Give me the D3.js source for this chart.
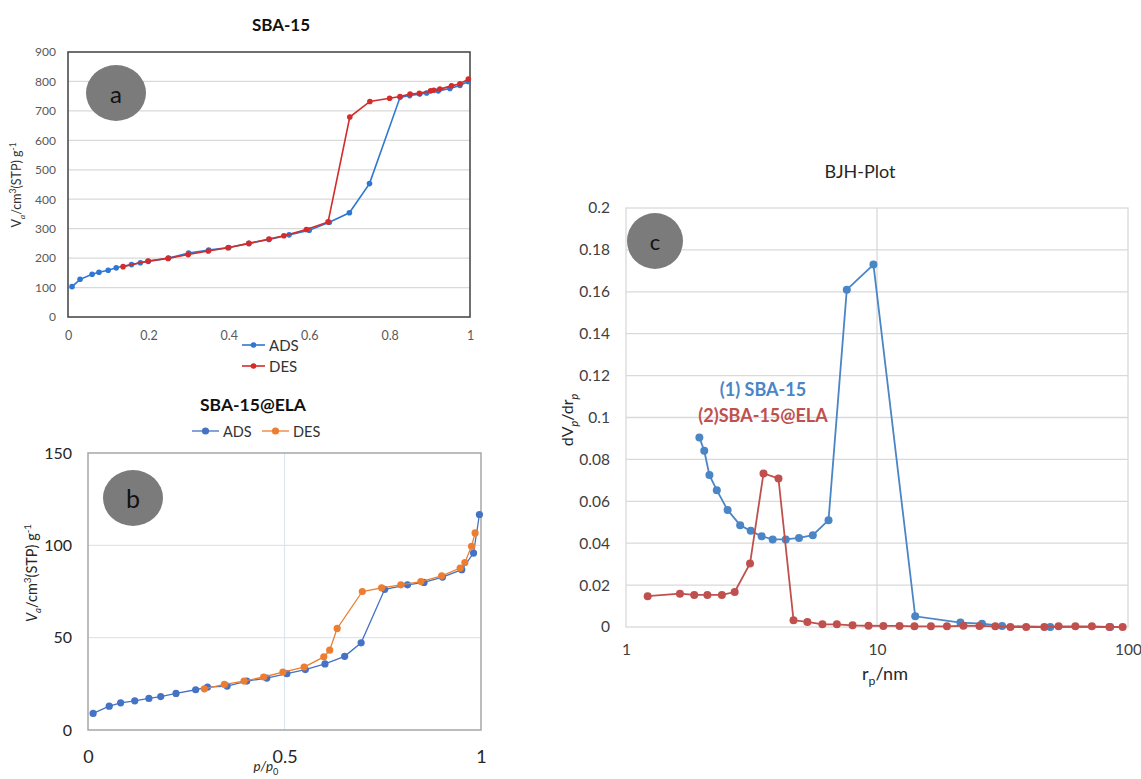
<!DOCTYPE html>
<html><head><meta charset="utf-8">
<script src="https://cdn.jsdelivr.net/npm/d3@7/dist/d3.min.js"></script>
<style>
body{margin:0;background:#fff;}
svg{display:block;font-family:Lato,"Open Sans",sans-serif;}
</style></head>
<body><svg id="chart" width="1141" height="779"></svg>
<script>
// ---------- Panel a : SBA-15 isotherm ----------
const aTicksX = [0, 0.2, 0.4, 0.6, 0.8, 1];
const aTicksY = [0,100,200,300,400,500,600,700,800,900];
const aAdsX = [0.01,0.03,0.06,0.077,0.1,0.12,0.158,0.18,0.2,0.25,0.3,0.35,0.4,0.45,0.5,0.55,0.6,0.65,0.7,0.75,0.826,0.85,0.875,0.892,0.921,0.95,0.975,0.995];
const aAdsV = [103,128,145,152,159,167,178,184,189,200,217,227,236,250,263,279,295,322,354,453,746,752,757,761,768,776,786,800];
const aDesX = [0.137,0.199,0.249,0.299,0.349,0.398,0.45,0.5,0.537,0.593,0.647,0.701,0.751,0.8,0.826,0.851,0.874,0.902,0.91,0.925,0.954,0.975,0.996];
const aDesV = [171,190,199,212,224,235,250,265,276,297,323,679,732,743,749,757,760,768,770,774,785,792,808];

// ---------- Panel b : SBA-15@ELA isotherm ----------
const bTicksX = [0, 0.5, 1];
const bTicksY = [0, 50, 100, 150];
const bAdsX = [0.013,0.054,0.083,0.119,0.155,0.185,0.224,0.274,0.304,0.354,0.404,0.455,0.506,0.553,0.603,0.653,0.695,0.755,0.813,0.855,0.902,0.951,0.981,0.996];
const bAdsV = [9,12.9,14.7,15.8,17.1,18.1,19.8,21.8,23.2,23.8,26.5,28.1,30.5,32.7,35.8,39.9,47.2,76.2,78.6,79.9,82.8,86.8,95.8,116.7];
const bDesX = [0.296,0.347,0.397,0.447,0.496,0.55,0.6,0.615,0.634,0.698,0.747,0.796,0.847,0.9,0.947,0.959,0.976,0.985];
const bDesV = [22.3,24.7,26.5,28.7,31.4,34.1,39.6,43.2,55.0,75.0,77.0,78.6,80.4,83.5,87.7,90.7,99.5,106.7];

// ---------- Panel c : BJH plot ----------
const cTicksX = [1, 10, 100];
const cTicksY = [0,0.02,0.04,0.06,0.08,0.1,0.12,0.14,0.16,0.18,0.2];
const cSbaR = [1.96,2.05,2.15,2.30,2.54,2.85,3.14,3.47,3.84,4.33,4.89,5.55,6.41,7.58,9.68,14.2,21.5,26.2,31.5,49,85];
const cSbaV = [0.0905,0.0841,0.0725,0.0653,0.0558,0.0486,0.0459,0.0433,0.0418,0.0418,0.0425,0.0438,0.051,0.161,0.173,0.0051,0.0021,0.0016,0.0005,0,0];
const cElaR = [1.22,1.64,1.87,2.11,2.41,2.71,3.12,3.53,4.05,4.65,5.28,6.06,6.92,7.99,9.25,10.6,12.3,14.1,16.4,19.0,22.1,25.6,29.6,34.0,39.3,46.4,52.9,61.7,71.8,84.3,95.2];
const cElaV = [0.0147,0.0159,0.0153,0.0153,0.0153,0.0167,0.0303,0.0733,0.0709,0.0032,0.0024,0.0013,0.0013,0.0008,0.0006,0.0005,0.0005,0.0003,0.0003,0.0003,0.0006,0.0005,0.0003,0,0,0,0.0003,0.0003,0.0003,0,0];

const svg = d3.select("#chart");
const zip = (xs, ys) => xs.map((x, i) => [x, ys[i]]);

function series(g, x, y, pts, color, r, w) {
  g.append("path").datum(pts)
    .attr("fill","none").attr("stroke",color).attr("stroke-width",w)
    .attr("d", d3.line().x(d=>x(d[0])).y(d=>y(d[1])));
  g.selectAll(null).data(pts).enter().append("circle")
    .attr("cx",d=>x(d[0])).attr("cy",d=>y(d[1])).attr("r",r).attr("fill",color);
}
function styleAxis(g, size, color) {
  g.select(".domain").remove();
  g.selectAll(".tick line").remove();
  g.selectAll("text").attr("font-size", size).attr("fill", color).attr("font-family","Lato,'Open Sans',sans-serif");
}
function badge(cx, cy, rx, ry, label, size) {
  svg.append("ellipse").attr("cx",cx).attr("cy",cy).attr("rx",rx).attr("ry",ry).attr("fill","#7b7b7b");
  svg.append("text").attr("x",cx).attr("y",cy).attr("text-anchor","middle").attr("dominant-baseline","central")
    .attr("font-size",size).attr("fill","#111").text(label);
}
// rich text: parts = [[text, kind, italic]] kind: "n" normal, "sub", "sup"
function rich(sel, parts, base) {
  let shift = 0;
  parts.forEach(([t, kind, it]) => {
    const target = kind === "sub" ? 0.3*base : kind === "sup" ? -0.4*base : 0;
    const ts = sel.append("tspan").attr("dy", target - shift).text(t);
    shift = target;
    if (kind !== "n") ts.attr("font-size", base*0.68);
    if (it) ts.attr("font-style","italic");
  });
}

// ===== Panel a =====
{
  const x = d3.scaleLinear().domain([0,1]).range([68,470]);
  const y = d3.scaleLinear().domain([0,900]).range([317,52]);
  const g = svg.append("g");
  g.selectAll(null).data(aTicksY.slice(1,-1)).enter().append("line")
    .attr("x1",68).attr("x2",470).attr("y1",d=>y(d)).attr("y2",d=>y(d)).attr("stroke","#d9d9d9").attr("stroke-width",1.3);
  g.append("rect").attr("x",68).attr("y",52).attr("width",402).attr("height",265).attr("fill","none").attr("stroke","#404040").attr("stroke-width",1.5);
  const ax = g.append("g").attr("transform","translate(0,317)").call(d3.axisBottom(x).tickValues(aTicksX).tickSize(0).tickPadding(14).tickFormat(d3.format("~g")));
  styleAxis(ax, 12.5, "#595959");
  const ay = g.append("g").attr("transform","translate(68,0)").call(d3.axisLeft(y).tickValues(aTicksY).tickSize(0).tickPadding(12));
  styleAxis(ay, 12, "#595959");
  series(g, x, y, zip(aAdsX,aAdsV), "#2f77d2", 2.8, 1.6);
  series(g, x, y, zip(aDesX,aDesV), "#d42b2b", 2.8, 1.6);
  svg.append("text").attr("x",281).attr("y",31).attr("text-anchor","middle").attr("font-size",17).attr("font-weight","bold").attr("fill","#111").text("SBA-15");
  const yl = svg.append("text").attr("transform","translate(21,185) rotate(-90)").attr("text-anchor","middle").attr("font-size",12.5).attr("fill","#333");
  rich(yl, [["V","n",false],["a","sub",true],["/cm","n",false],["3","sup",false],["(STP) g","n",false],["-1","sup",false]], 12.5);
  // legend
  [["ADS","#2f77d2",345],["DES","#d42b2b",366]].forEach(([t,c,yy])=>{
    svg.append("line").attr("x1",242).attr("x2",265).attr("y1",yy).attr("y2",yy).attr("stroke",c).attr("stroke-width",1.6);
    svg.append("circle").attr("cx",253.5).attr("cy",yy).attr("r",2.8).attr("fill",c);
    svg.append("text").attr("x",269).attr("y",yy).attr("dominant-baseline","central").attr("font-size",15).attr("fill","#333").text(t);
  });
  badge(116, 93, 30, 28, "a", 24);
}

// ===== Panel b =====
{
  const x = d3.scaleLinear().domain([0,1]).range([88,481]);
  const y = d3.scaleLinear().domain([0,150]).range([730,453]);
  const g = svg.append("g");
  g.selectAll(null).data([50,100]).enter().append("line")
    .attr("x1",88).attr("x2",481).attr("y1",d=>y(d)).attr("y2",d=>y(d)).attr("stroke","#dde5f1").attr("stroke-width",1.2);
  g.append("line").attr("x1",x(0.5)).attr("x2",x(0.5)).attr("y1",453).attr("y2",730).attr("stroke","#dde5f1").attr("stroke-width",1.2);
  g.append("rect").attr("x",88).attr("y",453).attr("width",393).attr("height",277).attr("fill","none").attr("stroke","#a6a6a6").attr("stroke-width",1.5);
  const ax = g.append("g").attr("transform","translate(0,730)").call(d3.axisBottom(x).tickValues(bTicksX).tickSize(0).tickPadding(20).tickFormat(d3.format("~g")));
  styleAxis(ax, 18, "#262626");
  const ay = g.append("g").attr("transform","translate(88,0)").call(d3.axisLeft(y).tickValues(bTicksY).tickSize(0).tickPadding(16));
  styleAxis(ay, 16, "#262626");
  series(g, x, y, zip(bAdsX,bAdsV), "#4472c4", 3.6, 1.3);
  series(g, x, y, zip(bDesX,bDesV), "#ed7d31", 3.6, 1.3);
  svg.append("text").attr("x",253).attr("y",411).attr("text-anchor","middle").attr("font-size",17.5).attr("font-weight","bold").attr("fill","#111").text("SBA-15@ELA");
  [["ADS","#4472c4",192,223],["DES","#ed7d31",262,293]].forEach(([t,c,lx,tx])=>{
    svg.append("line").attr("x1",lx).attr("x2",lx+27).attr("y1",431).attr("y2",431).attr("stroke",c).attr("stroke-width",1.3);
    svg.append("circle").attr("cx",lx+13.5).attr("cy",431).attr("r",3.6).attr("fill",c);
    svg.append("text").attr("x",tx).attr("y",431).attr("dominant-baseline","central").attr("font-size",14.5).attr("fill","#333").text(t);
  });
  const yl = svg.append("text").attr("transform","translate(37,573) rotate(-90)").attr("text-anchor","middle").attr("font-size",14.5).attr("fill","#262626");
  rich(yl, [["V","n",true],["a","sub",true],["/cm","n",false],["3","sup",false],["(STP) g","n",false],["-1","sup",false]], 14.5);
  const xl = svg.append("text").attr("x",266).attr("y",771).attr("text-anchor","middle").attr("font-size",13.5).attr("fill","#262626");
  rich(xl, [["p/p","n",true],["0","sub",false]], 13.5);
  badge(133, 498, 30, 28, "b", 25);
}

// ===== Panel c =====
{
  const x = d3.scaleLog().domain([1,100]).range([626,1128]);
  const y = d3.scaleLinear().domain([0,0.2]).range([627,208]);
  const g = svg.append("g");
  g.selectAll(null).data(cTicksY.slice(1,-1)).enter().append("line")
    .attr("x1",626).attr("x2",1128).attr("y1",d=>y(d)).attr("y2",d=>y(d)).attr("stroke","#d9d9d9").attr("stroke-width",1.3);
  g.append("line").attr("x1",x(10)).attr("x2",x(10)).attr("y1",208).attr("y2",627).attr("stroke","#d9d9d9").attr("stroke-width",1.3);
  g.append("rect").attr("x",626).attr("y",208).attr("width",502).attr("height",419).attr("fill","none").attr("stroke","#d9d9d9").attr("stroke-width",1.3);
  const ax = g.append("g").attr("transform","translate(0,627)").call(d3.axisBottom(x).tickValues(cTicksX).tickSize(0).tickPadding(17).tickFormat(d3.format("d")));
  styleAxis(ax, 15.5, "#404040");
  const ay = g.append("g").attr("transform","translate(626,0)").call(d3.axisLeft(y).tickValues(cTicksY).tickSize(0).tickPadding(16).tickFormat(d3.format("~g")));
  styleAxis(ay, 15.5, "#404040");
  series(g, x, y, zip(cSbaR,cSbaV), "#4a85c6", 4, 1.8);
  series(g, x, y, zip(cElaR,cElaV), "#c0504d", 4, 1.8);
  svg.append("text").attr("x",860).attr("y",178).attr("text-anchor","middle").attr("font-size",18).attr("fill","#262626").text("BJH-Plot");
  svg.append("text").attr("x",763).attr("y",389).attr("text-anchor","middle").attr("dominant-baseline","central").attr("font-size",18).attr("font-weight","bold").attr("fill","#4a85c6").text("(1) SBA-15");
  svg.append("text").attr("x",763).attr("y",415).attr("text-anchor","middle").attr("dominant-baseline","central").attr("font-size",18).attr("font-weight","bold").attr("fill","#c0504d").text("(2)SBA-15@ELA");
  const yl = svg.append("text").attr("transform","translate(573,420) rotate(-90)").attr("text-anchor","middle").attr("font-size",16).attr("fill","#262626");
  rich(yl, [["dV","n",false],["p","sub",true],["/dr","n",false],["p","sub",true]], 16);
  const xl = svg.append("text").attr("x",885).attr("y",680).attr("text-anchor","middle").attr("font-size",18).attr("fill","#262626");
  rich(xl, [["r","n",false],["p","sub",false],["/nm","n",false]], 18);
  badge(655, 241, 28, 28, "c", 22);
}
</script></body></html>
